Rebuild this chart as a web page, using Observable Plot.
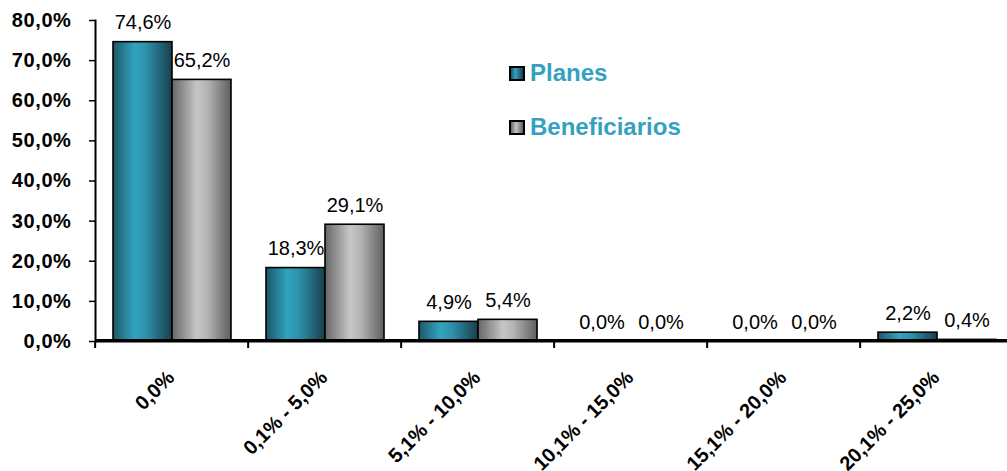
<!DOCTYPE html>
<html><head>
<meta charset="utf-8">
<script src="https://cdn.jsdelivr.net/npm/d3@7"></script>
<script src="https://cdn.jsdelivr.net/npm/@observablehq/plot@0.6"></script>
<style>
body{margin:0;background:#fff}
#wrap{position:relative;width:1007px;height:471px;overflow:hidden;font-family:"Liberation Sans",Arial,sans-serif}
.leg{position:absolute;left:509px;display:flex;align-items:center;font-weight:bold;font-size:24px;color:#33a1bf}
.sw{width:12px;height:11px;border:2px solid #000;margin-right:5px}
</style>
</head><body><div id="wrap"></div>
<script>
const categories = ["0,0%","0,1% - 5,0%","5,1% - 10,0%","10,1% - 15,0%","15,1% - 20,0%","20,1% - 25,0%"];
const series = ["Planes","Beneficiarios"];
const planes = [74.6,18.3,4.9,0.0,0.0,2.2];
const beneficiarios = [65.2,29.1,5.4,0.0,0.0,0.4];
const yTicks = [0,10,20,30,40,50,60,70,80];

const data = categories.flatMap((c,i)=>[
  {cat:c, serie:series[0], value:planes[i]},
  {cat:c, serie:series[1], value:beneficiarios[i]}
]);
const fmt = v => v.toFixed(1).replace(".", ",") + "%";
const fxRange = [93, 1015.3];
const step = (fxRange[1]-fxRange[0]) / categories.length;

const plot = Plot.plot({
  width: 1007, height: 471,
  marginTop: 20, marginBottom: 130, marginLeft: 93, marginRight: 0,
  style: {fontFamily: "'Liberation Sans', Arial, sans-serif", background: "transparent", color: "#000"},
  fx: {domain: categories, range: fxRange, padding: 0, label: null, axis: null},
  x: {domain: series, paddingInner: 0, paddingOuter: 0.28, axis: null},
  y: {domain: [0, 80], axis: null},
  color: {domain: series, range: ["url(#gP)", "url(#gB)"]},
  marks: [
    Plot.barY(data, {fx: "cat", x: "serie", y: "value", fill: "serie", stroke: "#000", strokeWidth: 1.6}),
    Plot.text(data, {fx: "cat", x: "serie", y: "value", text: d => fmt(d.value), dy: -13, lineAnchor: "bottom", fontSize: 20, fill: "#000", style: "letter-spacing:0.4px"}),
    Plot.ruleY([0], {stroke: "#000", strokeWidth: 3.6, dy: -0.8}),
    Plot.frame({anchor: "left", facetAnchor: "left", stroke: "#000", strokeWidth: 2}),
    Plot.axisY({ticks: yTicks, tickFormat: fmt, tickSize: 6, tickPadding: 18, fontSize: 20, fontWeight: "bold", strokeWidth: 1.5, label: null}),
    Plot.axisFx({anchor: "bottom", tickSize: 7, text: null, dx: -step/2, strokeWidth: 2}),
    Plot.axisFx({anchor: "bottom", tickSize: 0, tickPadding: 33, tickRotate: -45, dx: -1, fontSize: 20, fontWeight: "bold", label: null})
  ]
});

const ns = "http://www.w3.org/2000/svg";
const defs = document.createElementNS(ns, "defs");
defs.innerHTML = `
<linearGradient id="gP" x1="0" x2="1" y1="0" y2="0">
  <stop offset="0" stop-color="#1c5868"/>
  <stop offset="0.36" stop-color="#32a2be"/>
  <stop offset="0.55" stop-color="#2d93ad"/>
  <stop offset="1" stop-color="#193f4b"/>
</linearGradient>
<linearGradient id="gB" x1="0" x2="1" y1="0" y2="0">
  <stop offset="0" stop-color="#666"/>
  <stop offset="0.42" stop-color="#c6c6c6"/>
  <stop offset="0.6" stop-color="#b4b4b4"/>
  <stop offset="1" stop-color="#5e5e5e"/>
</linearGradient>`;
plot.insertBefore(defs, plot.firstChild);
plot.querySelectorAll("text").forEach(t => { if (t.closest("[aria-label='y-axis tick label']")) t.setAttribute("letter-spacing", "0.6"); });

const wrap = document.getElementById("wrap");
wrap.appendChild(plot);
const legTops = [59, 113];
series.forEach((s, i) => {
  const d = document.createElement("div");
  d.className = "leg";
  d.style.top = legTops[i] + "px";
  const sw = document.createElement("div");
  sw.className = "sw";
  sw.style.background = i === 0
    ? "linear-gradient(to right,#1c5868,#32a2be 36%,#193f4b)"
    : "linear-gradient(to right,#666,#c6c6c6 42%,#5e5e5e)";
  d.appendChild(sw);
  d.appendChild(document.createTextNode(s));
  wrap.appendChild(d);
});
</script>
</body></html>
